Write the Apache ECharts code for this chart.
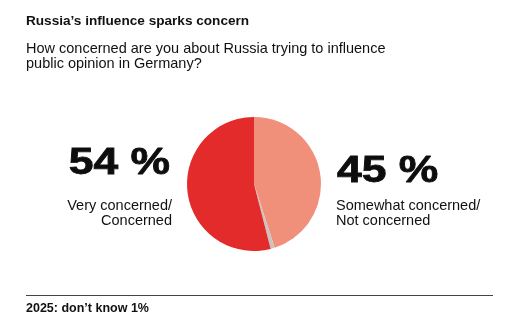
<!DOCTYPE html>
<html><head><meta charset="utf-8">
<script src="https://cdn.jsdelivr.net/npm/echarts@6/dist/echarts.min.js"></script>
<style>html,body{margin:0;padding:0;background:#fff}#c{width:507px;height:332px}</style>
</head><body><div id="c"></div>
<script>
var categories = ['Somewhat concerned/\nNot concerned', "Don't know", 'Very concerned/\nConcerned'];
var values = [45, 1, 54];
var colors = ['#F1907A', '#C9C4C0', '#E32B2C'];
var title = 'Russia\u2019s influence sparks concern';
var subtitle = ['How concerned are you about Russia trying to influence', 'public opinion in Germany?'];
var footnote = '2025: don\u2019t know 1%';

var chart = echarts.init(document.getElementById('c'), null, {renderer: 'canvas'});
var sans = '"Liberation Sans", Arial, sans-serif';
chart.setOption({
  backgroundColor: '#fff',
  animation: false,
  series: [{
    type: 'pie',
    center: [254, 184],
    radius: [0, 67],
    startAngle: 90,
    clockwise: true,
    label: {show: false},
    labelLine: {show: false},
    silent: true,
    data: categories.map(function (c, i) {
      return {name: c, value: values[i], itemStyle: {color: colors[i]}};
    })
  }],
  graphic: [
    {type: 'text', x: 26, y: 21.5, style: {text: title, font: 'bold 13.6px ' + sans, fill: '#111', textVerticalAlign: 'middle'}},
    {type: 'text', x: 26, y: 48.5, style: {text: subtitle[0], font: '14.5px ' + sans, fill: '#111', textVerticalAlign: 'middle'}},
    {type: 'text', x: 26, y: 63.5, style: {text: subtitle[1], font: '14.5px ' + sans, fill: '#111', textVerticalAlign: 'middle'}},
    {type: 'text', x: 170, y: 164, scaleX: 1.2, style: {text: values[2] + ' %', font: 'bold 37px ' + sans, fill: '#0d0d0d', stroke: '#0d0d0d', lineWidth: 0.8, textAlign: 'right', textVerticalAlign: 'middle'}},
    {type: 'text', x: 172, y: 206, style: {text: categories[2].split('\n')[0], font: '14.5px ' + sans, fill: '#111', textAlign: 'right', textVerticalAlign: 'middle'}},
    {type: 'text', x: 172, y: 220.5, style: {text: categories[2].split('\n')[1], font: '14.5px ' + sans, fill: '#111', textAlign: 'right', textVerticalAlign: 'middle'}},
    {type: 'text', x: 337, y: 171.5, scaleX: 1.2, style: {text: values[0] + ' %', font: 'bold 37px ' + sans, fill: '#0d0d0d', stroke: '#0d0d0d', lineWidth: 0.8, textAlign: 'left', textVerticalAlign: 'middle'}},
    {type: 'text', x: 336, y: 206, style: {text: categories[0].split('\n')[0], font: '14.5px ' + sans, fill: '#111', textAlign: 'left', textVerticalAlign: 'middle'}},
    {type: 'text', x: 336, y: 220.5, style: {text: categories[0].split('\n')[1], font: '14.5px ' + sans, fill: '#111', textAlign: 'left', textVerticalAlign: 'middle'}},
    {type: 'line', shape: {x1: 26, y1: 295.5, x2: 493, y2: 295.5}, style: {stroke: '#444', lineWidth: 1}},
    {type: 'text', x: 26, y: 309, style: {text: footnote, font: 'bold 12.5px ' + sans, fill: '#111', textVerticalAlign: 'middle'}}
  ]
});
</script></body></html>
